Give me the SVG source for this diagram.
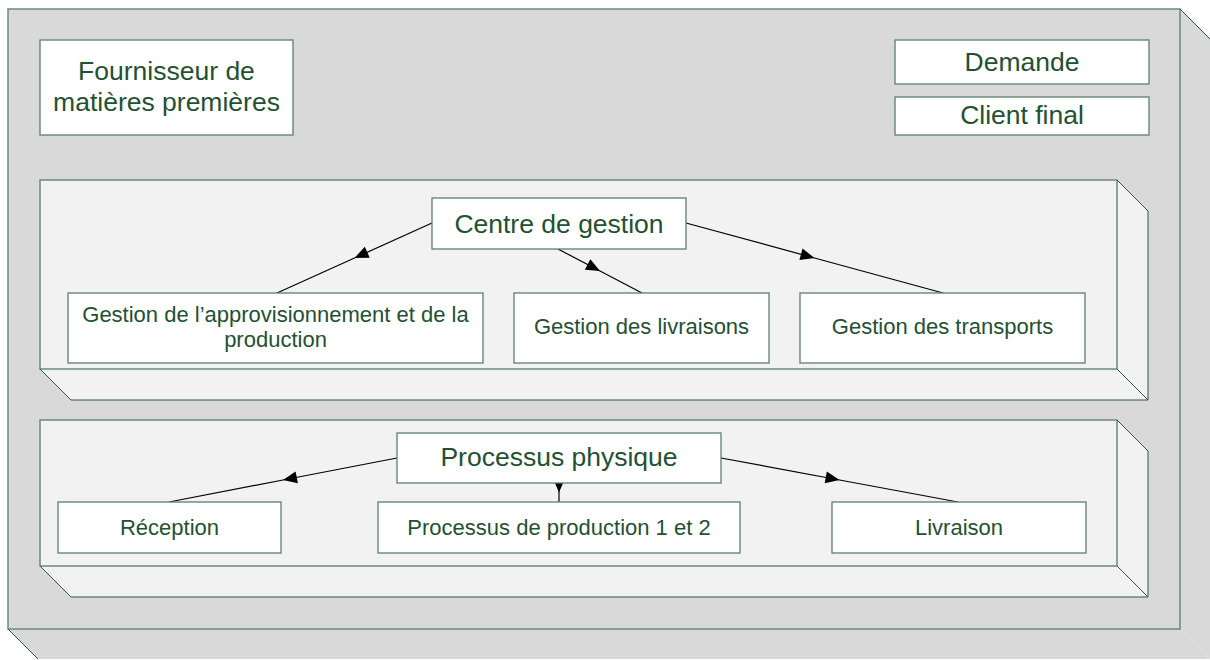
<svg xmlns="http://www.w3.org/2000/svg" width="1210" height="660" viewBox="0 0 1210 660">
<style>
.face{stroke:#6b8a77;stroke-width:1.5}
.edge{fill:none;stroke:#2f5a3e;stroke-width:1}
.outer{fill:#d9d9d9}
.inner{fill:#f2f2f2}
.box{fill:#ffffff;stroke:#5f7f6d;stroke-width:1.3}
.big{font-family:"Liberation Sans",Arial,sans-serif;font-size:26.5px;fill:#1f5133;text-anchor:middle}
.small{font-family:"Liberation Sans",Arial,sans-serif;font-size:22px;fill:#1f5133;text-anchor:middle}
.conn{fill:none;stroke:#000;stroke-width:1.2;marker-mid:url(#arr)}
</style>
<defs>
<marker id="arr" markerUnits="userSpaceOnUse" markerWidth="16" markerHeight="14" refX="14" refY="6" orient="auto" overflow="visible">
<path d="M0,0 L14,6 L0,12 z" fill="#000"/>
</marker>
</defs>
<g id="outer-box">
<polygon class="outer" points="1180,9 1210,39 1210,659 1180,629"/>
<polygon class="outer" points="8,629 1180,629 1210,659 38,659"/>
<rect class="outer face" x="8" y="9" width="1172" height="620"/>
<path class="edge" d="M1180,9 L1210,39 M8,629 L38,659"/>
</g>
<g id="fournisseur">
<rect class="box" x="40" y="40" width="253" height="95"/>
<text class="big" x="166.5" y="80">Fournisseur de</text>
<text class="big" x="166.5" y="111">matières premières</text>
</g>
<g id="demande">
<rect class="box" x="895" y="40" width="254" height="44"/>
<text class="big" x="1022" y="71">Demande</text>
</g>
<g id="client-final">
<rect class="box" x="895" y="97" width="254" height="38"/>
<text class="big" x="1022" y="124">Client final</text>
</g>
<g id="centre-panel">
<polygon class="inner" points="1117,180 1148,211 1148,400 1117,369"/>
<polygon class="inner" points="40,369 1117,369 1148,400 71,400"/>
<rect class="inner face" x="40" y="180" width="1077" height="189"/>
<path class="edge" d="M1117,180 L1148,211 L1148,400 L71,400 L40,369 M1117,369 L1148,400"/>
</g>
<g id="physique-panel">
<polygon class="inner" points="1117,420 1148,451 1148,597 1117,566"/>
<polygon class="inner" points="40,566 1117,566 1148,597 71,597"/>
<rect class="inner face" x="40" y="420" width="1077" height="146"/>
<path class="edge" d="M1117,420 L1148,451 L1148,597 L71,597 L40,566 M1117,566 L1148,597"/>
</g>
<g id="connectors">
<path class="conn" d="M432,223 L354.5,258 L277,293"/>
<path class="conn" d="M558,249 L600,271 L642,293"/>
<path class="conn" d="M686,223 L814.5,258 L943,293"/>
<path class="conn" d="M397,458 L283,480 L169,502"/>
<path class="conn" d="M559,483 L559,492.5 L559,502"/>
<path class="conn" d="M721,458 L839.5,480 L958,502"/>
</g>
<g id="centre-de-gestion">
<rect class="box" x="432" y="198" width="254" height="51"/>
<text class="big" x="559" y="233">Centre de gestion</text>
</g>
<g id="gestion-approvisionnement">
<rect class="box" x="68" y="293" width="415" height="70"/>
<text class="small" x="275.5" y="322">Gestion de l’approvisionnement et de la</text>
<text class="small" x="275.5" y="347">production</text>
</g>
<g id="gestion-livraisons">
<rect class="box" x="514" y="293" width="255" height="70"/>
<text class="small" x="641.5" y="334">Gestion des livraisons</text>
</g>
<g id="gestion-transports">
<rect class="box" x="800" y="293" width="285" height="70"/>
<text class="small" x="942.5" y="334">Gestion des transports</text>
</g>
<g id="processus-physique">
<rect class="box" x="397" y="433" width="324" height="50"/>
<text class="big" x="559" y="466">Processus physique</text>
</g>
<g id="reception">
<rect class="box" x="58" y="502" width="223" height="51"/>
<text class="small" x="169.5" y="535">Réception</text>
</g>
<g id="processus-production">
<rect class="box" x="378" y="502" width="362" height="51"/>
<text class="small" x="559" y="535">Processus de production 1 et 2</text>
</g>
<g id="livraison">
<rect class="box" x="832" y="502" width="254" height="51"/>
<text class="small" x="959" y="535">Livraison</text>
</g>
</svg>
